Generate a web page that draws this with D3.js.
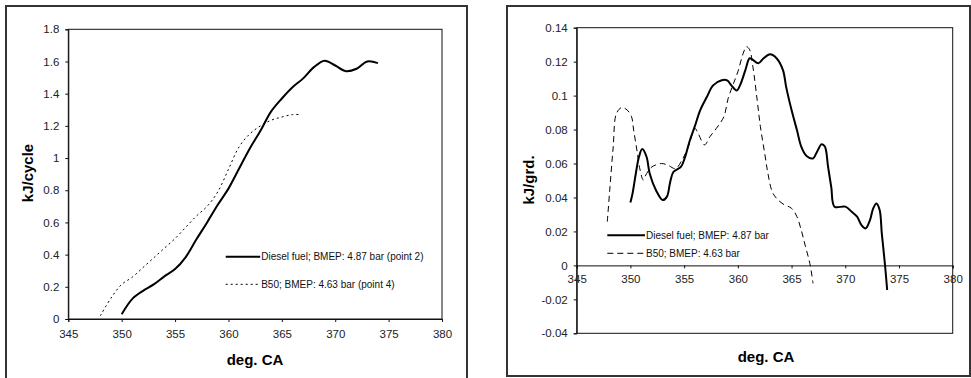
<!DOCTYPE html>
<html>
<head>
<meta charset="utf-8">
<script src="https://cdn.jsdelivr.net/npm/d3@7"></script>
<style>
  body { margin: 0; background: #fff; }
  svg { display: block; font-family: "Liberation Sans", Arial, sans-serif; }
</style>
</head>
<body>
<svg id="chart" width="971" height="378"></svg>
<script>
// Left chart: cumulative heat release (kJ/cycle)
const cumDieselX = [350, 351, 352, 353, 354, 355, 356, 357, 358, 359, 360, 361, 362, 363, 364, 365, 366, 367, 368, 369, 370, 371, 372, 373, 374];
const cumDieselY = [0.03, 0.125, 0.175, 0.215, 0.265, 0.31, 0.385, 0.495, 0.60, 0.71, 0.81, 0.935, 1.06, 1.17, 1.29, 1.37, 1.44, 1.495, 1.565, 1.605, 1.575, 1.54, 1.555, 1.60, 1.59];
const cumB50X = [348, 349, 350, 351, 352, 353, 354, 355, 356, 357, 358, 359, 360, 361, 362, 363, 364, 365, 366, 366.7];
const cumB50Y = [0.02, 0.13, 0.215, 0.26, 0.32, 0.38, 0.44, 0.50, 0.57, 0.64, 0.70, 0.79, 0.93, 1.07, 1.15, 1.20, 1.235, 1.255, 1.27, 1.27];

// Right chart: heat release rate (kJ/grd.)
const rateDieselX = [350, 350.2, 350.5, 350.8, 351.1, 351.5, 351.8, 352.4, 353, 353.4, 353.7, 354, 354.7, 355.1, 355.5, 356, 356.5, 357.1, 357.7, 358.5, 359, 359.4, 359.9, 360.2, 360.7, 361.1, 361.4, 361.9, 362.4, 363, 363.6, 364.2, 364.5, 365, 365.5, 365.9, 366.4, 367, 367.3, 367.8, 368.1, 368.4, 368.7, 369, 370, 370.6, 371.1, 371.5, 371.9, 372.3, 372.6, 372.9, 373.2, 373.4, 373.7, 373.9];
const rateDieselY = [0.037, 0.0424, 0.054, 0.064, 0.0685, 0.064, 0.054, 0.044, 0.0385, 0.0405, 0.049, 0.055, 0.058, 0.064, 0.073, 0.082, 0.0915, 0.099, 0.106, 0.109, 0.109, 0.106, 0.103, 0.106, 0.115, 0.122, 0.121, 0.119, 0.122, 0.1243, 0.122, 0.115, 0.105, 0.0915, 0.0797, 0.07, 0.0644, 0.063, 0.066, 0.0714, 0.07, 0.058, 0.046, 0.0346, 0.0346, 0.0316, 0.0287, 0.0238, 0.0218, 0.0267, 0.0336, 0.0365, 0.0326, 0.0189, 0.0002, -0.0145];
const rateB50X = [347.85, 348.1, 348.4, 348.7, 349.2, 349.7, 350.1, 350.3, 350.6, 350.9, 351.2, 351.5, 352, 352.9, 353.5, 354.2, 354.8, 355.4, 356, 356.3, 356.9, 357.4, 358, 358.7, 359.1, 359.6, 360, 360.5, 360.8, 361.1, 361.4, 361.8, 362.1, 362.5, 362.8, 363.2, 363.6, 364.2, 365, 365.5, 365.9, 366.3, 366.7, 367];
const rateB50Y = [0.0257, 0.0464, 0.0699, 0.0895, 0.093, 0.0915, 0.0876, 0.0797, 0.068, 0.0562, 0.0503, 0.054, 0.058, 0.060, 0.059, 0.057, 0.062, 0.070, 0.0807, 0.0778, 0.071, 0.0758, 0.0807, 0.0876, 0.0984, 0.1072, 0.114, 0.1249, 0.1288, 0.127, 0.117, 0.0974, 0.0817, 0.066, 0.0542, 0.0434, 0.0395, 0.0362, 0.0336, 0.0287, 0.0208, 0.011, 0.0012, -0.0106];

const xTicks = [345, 350, 355, 360, 365, 370, 375, 380];
const leftYTicks = [0, 0.2, 0.4, 0.6, 0.8, 1, 1.2, 1.4, 1.6, 1.8];
const rightYTicks = [-0.04, -0.02, 0, 0.02, 0.04, 0.06, 0.08, 0.1, 0.12, 0.14];

const legendLeft = ['Diesel fuel; BMEP: 4.87 bar (point 2)', 'B50; BMEP: 4.63 bar (point 4)'];
const legendRight = ['Diesel fuel; BMEP: 4.87 bar', 'B50; BMEP: 4.63 bar'];

const svg = d3.select('#chart');
const zip = (xs, ys) => xs.map((x, i) => ({ x, y: ys[i] }));

function drawPanel(cfg) {
    const g = svg.append('g');
    // outer frame
    g.append('rect')
        .attr('x', cfg.frame[0]).attr('y', cfg.frame[1])
        .attr('width', cfg.frame[2]).attr('height', cfg.frame[3])
        .attr('fill', 'none').attr('stroke', '#333').attr('stroke-width', 2);

    const x = d3.scaleLinear().domain([345, 380]).range([cfg.left, cfg.right]);
    const y = d3.scaleLinear().domain(cfg.yDomain).range([cfg.bottom, cfg.top]);

    // plot box
    g.append('rect')
        .attr('x', cfg.left).attr('y', cfg.top)
        .attr('width', cfg.right - cfg.left).attr('height', cfg.bottom - cfg.top)
        .attr('fill', 'none').attr('stroke', '#111').attr('stroke-width', 1);

    // Axes
    const yAxis = g.append('g')
        .attr('transform', `translate(${cfg.left},0)`)
        .call(d3.axisLeft(y).tickValues(cfg.yTicks).tickSize(3).tickPadding(6).tickFormat(d => String(+d.toFixed(2))));
    const xAxisY = y(0);
    const xAxis = g.append('g')
        .attr('transform', `translate(0,${xAxisY})`)
        .call(d3.axisBottom(x).tickValues(xTicks).tickSize(3).tickPadding(cfg.xPad));
    [xAxis, yAxis].forEach(a => {
        a.select('.domain').attr('stroke', '#111');
        a.selectAll('line').attr('stroke', '#111');
        a.selectAll('text').attr('font-size', 11.5).attr('fill', '#222');
        a.attr('font-family', null);
    });

    // Labels
    g.append('text')
        .attr('x', cfg.xTitle[0]).attr('y', cfg.xTitle[1])
        .attr('text-anchor', 'middle').attr('font-weight', 'bold').attr('font-size', 15)
        .text('deg. CA');
    g.append('text')
        .attr('transform', `translate(${cfg.yTitle[0]},${cfg.yTitle[1]}) rotate(-90)`)
        .attr('text-anchor', 'middle').attr('dy', '0.35em')
        .attr('font-weight', 'bold').attr('font-size', 15)
        .text(cfg.yLabel);

    const line = d3.line()
        .x(d => x(d.x))
        .y(d => y(d.y))
        .curve(d3.curveCatmullRom.alpha(0.5));

    cfg.series.forEach((s, i) => {
        g.append('path')
            .datum(s.data)
            .attr('fill', 'none')
            .attr('stroke', '#000')
            .attr('stroke-width', s.width)
            .attr('stroke-dasharray', s.dash)
            .attr('d', line);
        // legend
        const ly = cfg.legend[1] + i * cfg.legendGap;
        g.append('line')
            .attr('x1', cfg.legend[0]).attr('x2', cfg.legend[0] + cfg.legendLen)
            .attr('y1', ly).attr('y2', ly)
            .attr('stroke', '#000').attr('stroke-width', s.width)
            .attr('stroke-dasharray', s.dash);
        g.append('text')
            .attr('x', cfg.legend[0] + cfg.legendLen + 1).attr('y', ly)
            .attr('dy', '0.35em').attr('font-size', 10).attr('fill', '#111')
            .text(s.name);
    });
}

drawPanel({
    frame: [6, 6, 461, 380],
    left: 68.3, right: 442, top: 29.3, bottom: 319,
    yDomain: [0, 1.8], yTicks: leftYTicks, xPad: 8,
    xTitle: [255, 365], yTitle: [28, 173], yLabel: 'kJ/cycle',
    legend: [225.7, 256.7], legendGap: 27.6, legendLen: 34.5,
    series: [
        { name: legendLeft[0], data: zip(cumDieselX, cumDieselY), width: 2, dash: null },
        { name: legendLeft[1], data: zip(cumB50X, cumB50Y), width: 1, dash: '2,3' }
    ]
});

drawPanel({
    frame: [507, 6, 463, 370],
    left: 576.7, right: 952.7, top: 27.7, bottom: 333.3,
    yDomain: [-0.04, 0.14], yTicks: rightYTicks, xPad: 6,
    xTitle: [766, 362], yTitle: [529, 180], yLabel: 'kJ/grd.',
    legend: [607.3, 235.3], legendGap: 18, legendLen: 37.7,
    series: [
        { name: legendRight[0], data: zip(rateDieselX, rateDieselY), width: 2, dash: null },
        { name: legendRight[1], data: zip(rateB50X, rateB50Y), width: 1, dash: '6,4' }
    ]
});
</script>
</body>
</html>
